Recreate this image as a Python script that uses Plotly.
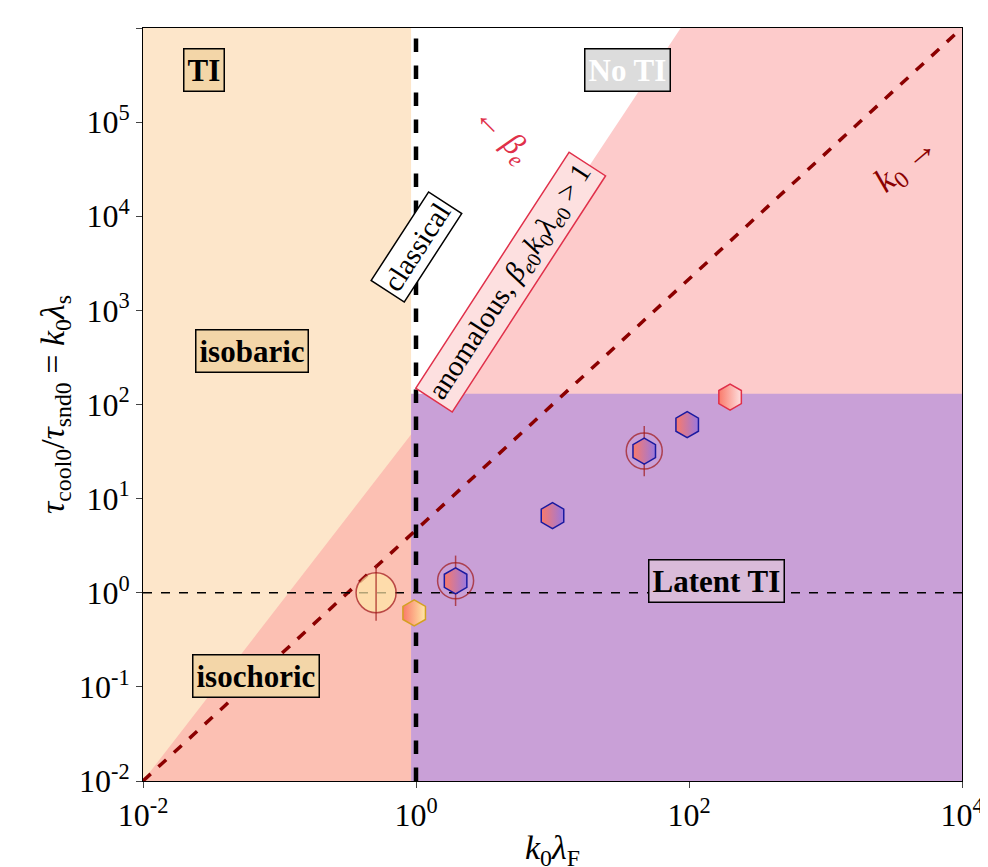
import plotly.graph_objects as go

# region boundaries (data coords)
ti_x = [1e-2, 0.92, 0.92, 1e-2]
ti_y = [1e-2, 1e-2, 1e6, 1e6]
anom_x = [1e-2, 0.92, 87, 1e4, 1e4]
anom_y = [1e-2, 48, 1e6, 1e6, 1e-2]
latent_x = [0.92, 1e4, 1e4, 0.92]
latent_y = [1e-2, 1e-2, 130, 130]
k0_line_x = [1e-2, 1e4]
k0_line_y = [1e-2, 1e6]

# simulation points
pt_x = [0.97, 1.95, 10, 47, 97, 200]
pt_y = [0.61, 1.34, 6.6, 32, 61, 120]
pt_right = ["#ffe8a8", "#9a78de", "#9a78de", "#9a78de", "#9a78de", "#fde0e0"]
pt_edge = ["#d4a020", "#1a1aa0", "#1a1aa0", "#1a1aa0", "#1a1aa0", "#e0304a"]
circ_x = [0.51, 1.95, 47]
circ_y = [1.0, 1.34, 32]
circ_fill = ["#ffe8a8", "rgba(0,0,0,0)", "rgba(0,0,0,0)"]

tickv = [1e-2, 1e-1, 1, 10, 1e2, 1e3, 1e4, 1e5, 1e6]
tickt = ["10<sup>%d</sup>" % e for e in range(-2, 7)]
xtickv = [1e-2, 1, 1e2, 1e4]
xtickt = ["10<sup>-2</sup>", "10<sup>0</sup>", "10<sup>2</sup>", "10<sup>4</sup>"]

fig = go.Figure()
fig.add_trace(go.Scatter(x=ti_x, y=ti_y, fill="toself", mode="none",
                         fillcolor="rgba(252,220,180,0.7)"))
fig.add_trace(go.Scatter(x=anom_x, y=anom_y, fill="toself", mode="none",
                         fillcolor="rgba(252,160,160,0.55)"))
fig.add_trace(go.Scatter(x=latent_x, y=latent_y, fill="toself", mode="none",
                         fillcolor="#c9a0d7"))
fig.add_trace(go.Scatter(x=k0_line_x, y=k0_line_y, mode="lines",
                         line=dict(color="#8b0000", width=3.5, dash="dash")))
fig.add_trace(go.Scatter(x=[1e-2, 1e4], y=[1, 1], mode="lines",
                         line=dict(color="black", width=1.5, dash="dash")))
fig.add_trace(go.Scatter(x=[1, 1], y=[1e-2, 1e6], mode="lines",
                         line=dict(color="black", width=4.5, dash="dash")))
# circles around points
fig.add_trace(go.Scatter(x=circ_x, y=circ_y, mode="markers",
                         marker=dict(symbol="circle", size=[40, 36, 36], color=circ_fill,
                                     line=dict(color="#a01818", width=1.5))))
fig.add_trace(go.Scatter(x=circ_x, y=circ_y, mode="markers",
                         marker=dict(symbol="line-ns", size=[40, 36, 36],
                                     line=dict(color="#a01818", width=1.5))))
# two-coloured hexagons (red left, second colour right)
fig.add_trace(go.Scatter(x=pt_x, y=pt_y, mode="markers",
                         marker=dict(symbol="hexagon", size=26, color="#fa7a6a",
                                     gradient=dict(type="horizontal", color=pt_right),
                                     line=dict(color=pt_edge, width=1.5))))

serif = "Liberation Serif"
def box(x, y, text, bg, fc="black", bc="black", angle=0, size=31):
    fig.add_annotation(x=x, y=y, xref="x", yref="y", text=text, showarrow=False,
                       textangle=angle, bgcolor=bg, bordercolor=bc, borderwidth=1.5,
                       borderpad=3, font=dict(family=serif, size=size, color=fc))

box(-1.55, 5.55, "<b>TI</b>", "#f3d6a8")
box(1.55, 5.55, "<b>No TI</b>", "#dcdcdc", fc="white")
box(-1.2, 2.57, "<b>isobaric</b>", "#f3d6a8")
box(-1.17, -0.88, "<b>isochoric</b>", "#f3d6a8")
box(2.2, 0.13, "<b>Latent TI</b>", "#d9bbd9")
box(0.0, 3.67, "classical", "white", angle=-57, size=29)
box(0.69, 3.3, "anomalous, <i>β</i><sub><i>e</i>0</sub><i>k</i><sub>0</sub><i>λ</i><sub><i>e</i>0</sub> &gt; 1",
    "#fde0e0", bc="#e0304a", angle=-57, size=29)
fig.add_annotation(x=0.63, y=4.87, text="← <i>β<sub>e</sub></i>", showarrow=False,
                   textangle=45, font=dict(family=serif, size=32, color="#e0304a"))
fig.add_annotation(x=3.6, y=4.55, text="<i>k</i><sub>0</sub> →", showarrow=False,
                   textangle=-40, font=dict(family=serif, size=34, color="#8b0000"))

ax = dict(type="log", showgrid=False, zeroline=False, showline=True, mirror=True,
          linecolor="black", linewidth=1, ticks="outside", ticklen=6,
          tickfont=dict(family=serif, size=32, color="black"))
fig.update_xaxes(**ax, range=[-2, 4], tickvals=xtickv, ticktext=xtickt,
                 title=dict(text="<i>k</i><sub>0</sub><i>λ</i><sub>F</sub>",
                            font=dict(family=serif, size=34, color="black"), standoff=2))
fig.update_yaxes(**ax, range=[-2, 6], tickvals=tickv, ticktext=tickt,
                 title=dict(text="<i>τ</i><sub>cool0</sub>/<i>τ</i><sub>snd0</sub> = <i>k</i><sub>0</sub><i>λ</i><sub>s</sub>",
                            font=dict(family=serif, size=34, color="black"), standoff=4))
fig.update_layout(width=988, height=867, showlegend=False, plot_bgcolor="white",
                  paper_bgcolor="white", margin=dict(l=135, r=28, t=20, b=94))
fig.write_html("out.html")
